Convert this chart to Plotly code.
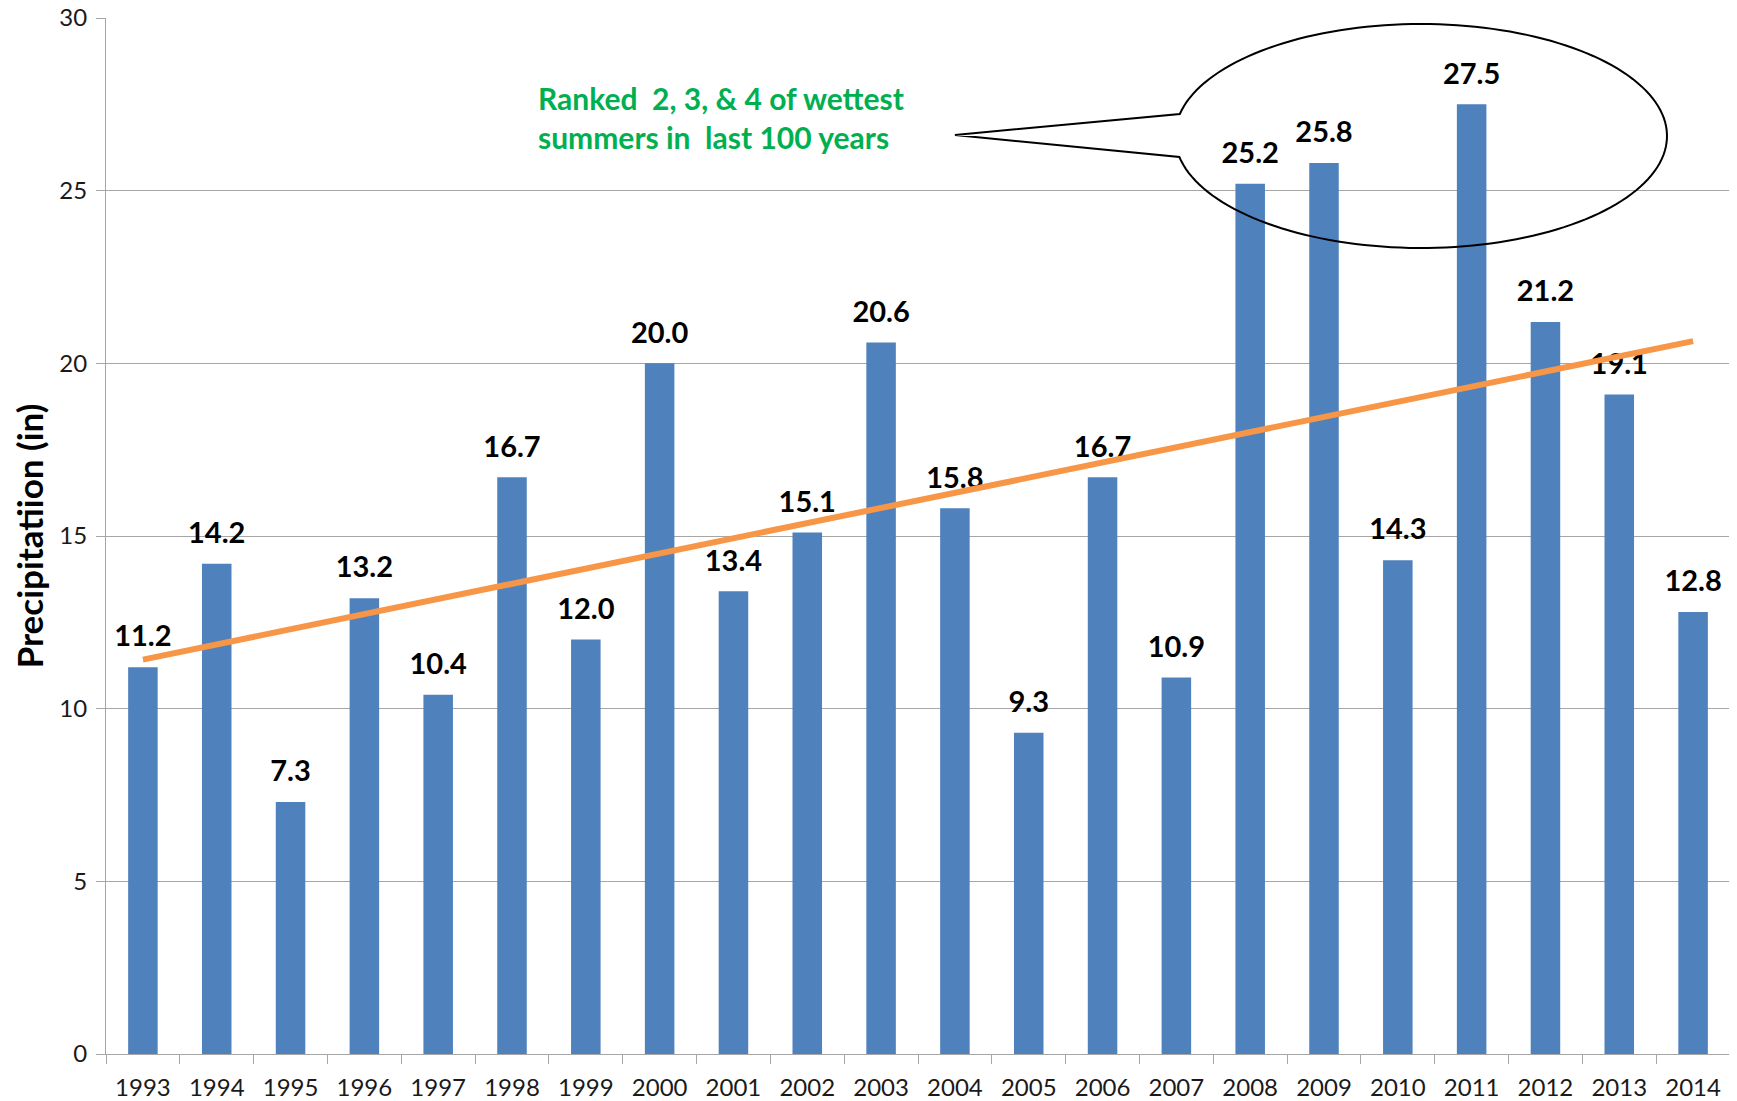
import numpy as np
import plotly.graph_objects as go

years = [str(y) for y in range(1993, 2015)]
precip = [11.2, 14.2, 7.3, 13.2, 10.4, 16.7, 12.0, 20.0, 13.4, 15.1, 20.6,
          15.8, 9.3, 16.7, 10.9, 25.2, 25.8, 14.3, 27.5, 21.2, 19.1, 12.8]
labels = [f"{v:.1f}" for v in precip]
y_ticks = [0, 5, 10, 15, 20, 25, 30]
note = "Ranked  2, 3, & 4 of wettest<br>summers in  last 100 years"
y_title = "Precipitatiion (in)"

# linear trend (Excel-style trendline) computed from the data
idx = np.arange(len(precip))
slope, intercept = np.polyfit(idx, precip, 1)
trend = slope * idx + intercept

OFF = 8  # page body margin
W, H = 1737 - OFF, 1101 - OFF
ML, MR, MT, MB = 98, 7, 10, 47
PW, PH = W - ML - MR, H - MT - MB

def to_paper(px, py):
    # px, py in page pixels
    px -= OFF
    py -= OFF
    return (px - ML) / PW, (H - MB - py) / PH

# speech bubble (pixel geometry converted to paper coords)
cx, cy, rx, ry = 1421, 136, 246, 112
tip = (955, 135)
a0 = np.pi + np.arcsin(22 / ry)   # upper base of tail
a1 = np.pi - np.arcsin(21 / ry)   # lower base of tail
angles = np.linspace(a0, a1 + 2 * np.pi, 160)
pts = []
for a in angles:
    px = cx + rx * np.cos(a)
    py = cy + ry * np.sin(a)
    pts.append(to_paper(px, py))
tx, ty = to_paper(*tip)
path = f"M {tx:.5f},{ty:.5f} " + " ".join(f"L {x:.5f},{y:.5f}" for x, y in pts) + " Z"

fig = go.Figure()
fig.add_trace(go.Bar(
    x=years, y=precip, width=0.4,
    marker=dict(color="#4F81BD", line=dict(width=0)),
    showlegend=False, hoverinfo="x+y",
))
fig.add_trace(go.Scatter(
    x=years, y=precip, mode="markers+text", text=labels, textposition="top center",
    marker=dict(size=20, color="rgba(0,0,0,0)"), cliponaxis=False,
    textfont=dict(family="Lato", size=29, color="#000000", weight="bold"),
    showlegend=False, hoverinfo="skip",
))
fig.add_trace(go.Scatter(
    x=years, y=trend, mode="lines",
    line=dict(color="#F79646", width=6), showlegend=False,
))

fig.add_shape(type="path", path=path, xref="paper", yref="paper",
              line=dict(color="#000000", width=2), fillcolor="rgba(0,0,0,0)")

nx, ny = to_paper(536, 78)
fig.add_annotation(x=nx, y=ny, xref="paper", yref="paper", text=note,
                   showarrow=False, xanchor="left", yanchor="top", align="left",
                   font=dict(family="Lato", size=30, color="#00B050", weight="bold"))

fig.update_layout(
    width=W, height=H,
    margin=dict(l=ML, r=MR, t=MT, b=MB, autoexpand=False),
    paper_bgcolor="white", plot_bgcolor="white",
    bargap=0.6,
    font=dict(family="Lato", color="#000000"),
)
fig.update_xaxes(
    type="category", range=[-0.5, len(years) - 0.5],
    tickson="boundaries", ticks="outside", ticklen=9,
    tickcolor="#A6A6A6", showline=True, linecolor="#A6A6A6", linewidth=1,
    showgrid=False, tickfont=dict(family="Lato", size=24, color="#1a1a1a"),
    ticklabelstandoff=12,
    automargin=False, ticklabeloverflow="allow",
)
fig.update_yaxes(
    range=[0, 30], tickvals=y_ticks, ticks="outside", ticklen=9, tickcolor="#A6A6A6",
    showline=True, linecolor="#A6A6A6", linewidth=1,
    showgrid=True, gridcolor="#A6A6A6", gridwidth=1, zeroline=False,
    tickfont=dict(family="Lato", size=24, color="#1a1a1a"), ticklabelstandoff=4,
    automargin=False, ticklabeloverflow="allow",
    title=dict(text=y_title, standoff=13,
               font=dict(family="Lato", size=35, color="#000000", weight="bold")),
)

fig.write_html("out.html")
